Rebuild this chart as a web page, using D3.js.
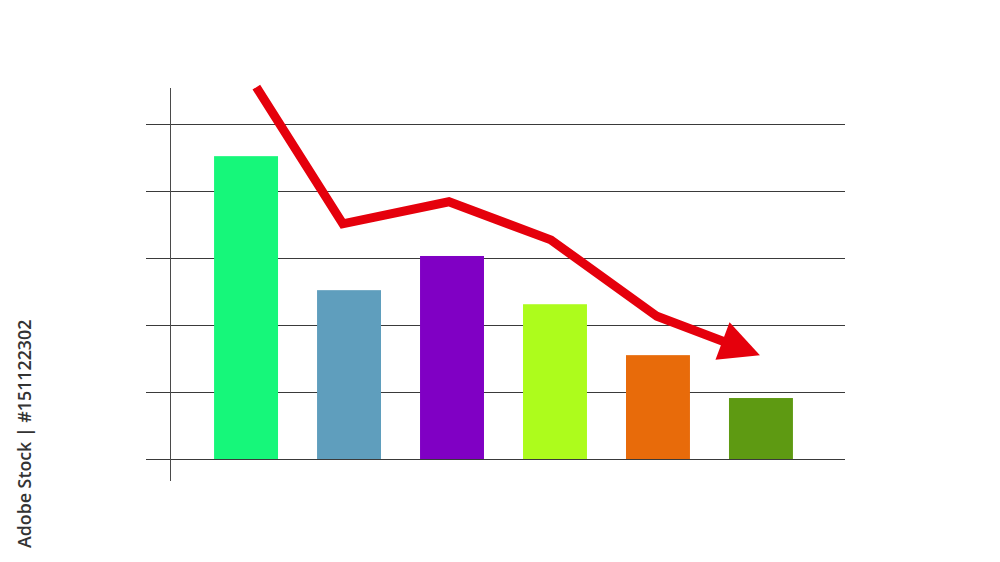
<!DOCTYPE html>
<html><head><meta charset="utf-8">
<script src="https://cdn.jsdelivr.net/npm/d3@7"></script>
<style>html,body{margin:0;padding:0;background:#fff;}svg{display:block;}</style>
</head><body>
<svg id="c" width="1000" height="562"></svg>
<script>
const categories = ["A","B","C","D","E","F"];
const values = [4.52, 2.52, 3.03, 2.31, 1.55, 0.91];
const barColors = ["#16f77a","#5f9ebd","#8000c4","#adfc1c","#e86b0a","#5e9a12"];
const yTicks = [0,1,2,3,4,5];
// trend arrow points: x in category-index units, y in value units
const trendX = [0.10, 0.94, 1.97, 2.96, 3.99, 4.99];
const trendY = [5.55, 3.51, 3.84, 3.27, 2.13, 1.55];
const credit = "Adobe Stock | #151122302";

const svg = d3.select("#c");
const y = d3.scaleLinear().domain([0,5]).range([459,124]);
const xb = d3.scaleBand().domain(categories).range([194.5,812.5]).paddingInner(0.379).paddingOuter(0.19);
const xi = d3.scaleLinear().domain([0,5]).range([xb(categories[0])+xb.bandwidth()/2, xb(categories[5])+xb.bandwidth()/2]);

// gridlines
svg.append("g").selectAll("line").data(yTicks).join("line")
  .attr("x1",146).attr("x2",845)
  .attr("y1",d=>Math.round(y(d))+0.5).attr("y2",d=>Math.round(y(d))+0.5)
  .attr("stroke","#3a3a3a").attr("stroke-width",1);

// y axis line
svg.append("line").attr("x1",170.5).attr("x2",170.5).attr("y1",88).attr("y2",481)
  .attr("stroke","#4a4a4a").attr("stroke-width",1);

// bars
svg.append("g").selectAll("rect").data(values).join("rect")
  .attr("x",(d,i)=>xb(categories[i]))
  .attr("width",xb.bandwidth())
  .attr("y",d=>y(d))
  .attr("height",d=>y(0)-y(d))
  .attr("fill",(d,i)=>barColors[i]);

// trend arrow
const pts = trendX.map((v,i)=>[xi(v), y(trendY[i])]);
const tip = pts[pts.length-1], prev = pts[pts.length-2];
const ang = Math.atan2(tip[1]-prev[1], tip[0]-prev[0]);
const headLen = 40, headHalf = 20;
const baseC = [tip[0]-headLen*Math.cos(ang), tip[1]-headLen*Math.sin(ang)];
const linePts = pts.slice(0,-1).concat([[tip[0]-(headLen-4)*Math.cos(ang), tip[1]-(headLen-4)*Math.sin(ang)]]);
svg.append("path").attr("d", d3.line()(linePts))
  .attr("fill","none").attr("stroke","#e5000c").attr("stroke-width",9).attr("stroke-linejoin","miter");
const perp = ang + Math.PI/2;
svg.append("path").attr("d", d3.line()([
  tip,
  [baseC[0]+headHalf*Math.cos(perp), baseC[1]+headHalf*Math.sin(perp)],
  [baseC[0]-headHalf*Math.cos(perp), baseC[1]-headHalf*Math.sin(perp)]
])+"Z").attr("fill","#e5000c");

// credit text
svg.append("text").attr("transform","translate(31,548) rotate(-90)")
  .attr("font-family","'Open Sans', sans-serif").attr("font-size",17.8).attr("font-weight",600)
  .attr("fill","#333").text(credit);
</script>
</body></html>
